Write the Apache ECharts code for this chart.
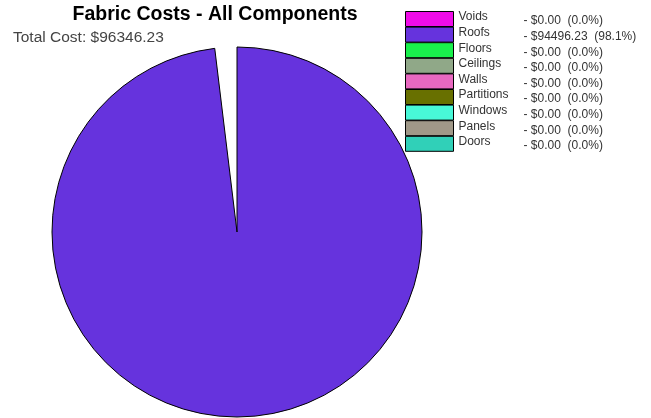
<!DOCTYPE html>
<html>
<head>
<meta charset="utf-8">
<script src="https://cdn.jsdelivr.net/npm/echarts@6/dist/echarts.min.js"></script>
<style>
  html, body { margin: 0; padding: 0; background: #fff; }
  #chart { width: 651px; height: 418px; }
</style>
</head>
<body>
<div id="chart"></div>
<script>
// components shown in the legend
var categories = ["Voids", "Roofs", "Floors", "Ceilings", "Walls", "Partitions", "Windows", "Panels", "Doors"];
var costs = [0, 94496.23, 0, 0, 0, 0, 0, 0, 0];
var colors = ["#f00ce8", "#6633dd", "#19f04c", "#90a888", "#e868c0", "#687000", "#48f8d8", "#a09888", "#30d0b8"];
var totalCost = 96346.23;
var unlistedCost = 1850.00; // part of the total with no legend entry (drawn as the white gap)

var chart = echarts.init(document.getElementById("chart"));

var pieData = categories.map(function (name, i) {
  var item = { name: name, value: costs[i], itemStyle: { color: colors[i] } };
  if (costs[i] > 0) {
    item.itemStyle.borderColor = "#000";
    item.itemStyle.borderWidth = 1;
  } else {
    item.itemStyle.borderWidth = 0;
  }
  return item;
});
pieData.push({
  name: "_rest",
  value: unlistedCost,
  itemStyle: { color: "rgba(0,0,0,0)", borderWidth: 0 },
  emphasis: { disabled: true }
});

var option = {
  animation: false,
  title: [
    {
      text: "Fabric Costs - All Components",
      left: 210,
      textAlign: "center",
      top: 0,
      textStyle: { fontFamily: "Liberation Sans", fontSize: 19.5, fontWeight: "bold", color: "#000" }
    },
    {
      text: "Total Cost: $" + totalCost.toFixed(2),
      left: 8,
      top: 25,
      textStyle: { fontFamily: "Liberation Sans", fontSize: 15.5, fontWeight: "normal", color: "#444" }
    }
  ],
  legend: {
    orient: "vertical",
    left: 405,
    top: 11,
    padding: 0,
    data: categories,
    icon: "rect",
    itemWidth: 48,
    itemHeight: 15,
    itemGap: -0.4,
    selectedMode: false,
    itemStyle: { borderColor: "#000", borderWidth: 1 },
    formatter: function (name) {
      var i = categories.indexOf(name);
      var pct = (costs[i] / totalCost * 100).toFixed(1);
      return "{n|" + name + "}{v|- $" + costs[i].toFixed(2) + "  (" + pct + "%)}";
    },
    textStyle: {
      rich: {
        n: { width: 65, fontFamily: "Liberation Sans", fontSize: 12, color: "#333", lineHeight: 10, padding: [0, 0, 4, 0] },
        v: { fontFamily: "Liberation Sans", fontSize: 12, color: "#333", lineHeight: 10, padding: [4, 0, 0, 0] }
      }
    }
  },
  series: [
    {
      type: "pie",
      center: [237, 232],
      radius: 185,
      startAngle: 90,
      clockwise: true,
      label: { show: false },
      labelLine: { show: false },
      data: pieData
    }
  ]
};

chart.setOption(option);
</script>
</body>
</html>
